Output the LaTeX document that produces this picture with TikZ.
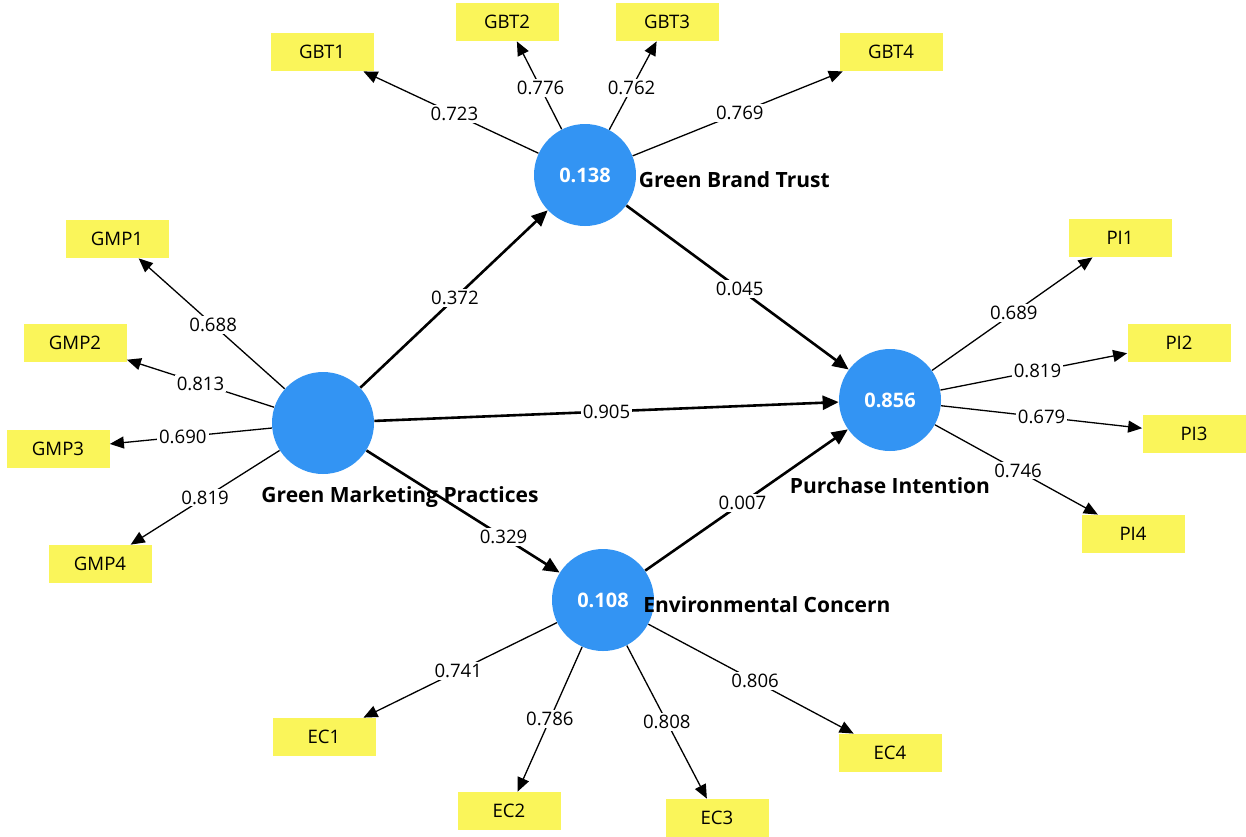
\documentclass[tikz,border=0pt]{standalone}
\usepackage{fontspec}
\setmainfont{Open Sans}
\usepackage{tikz}
\usetikzlibrary{positioning,arrows.meta}
\definecolor{lvblue}{RGB}{51,148,243}
\definecolor{indyellow}{RGB}{250,245,90}

\begin{document}
\begin{tikzpicture}[x=0.5pt, y=-0.5pt, font=\fontsize{9.3}{11}\selectfont,
  lv/.style={circle, fill=lvblue, minimum size=51pt, inner sep=0pt, text=white,
    font=\fontsize{10}{12}\selectfont\bfseries},
  ind/.style={fill=indyellow, minimum width=51.5pt, minimum height=19pt, inner sep=0pt},
  lvname/.style={font=\fontsize{10.5}{12}\selectfont\bfseries, inner sep=0pt},
  wt/.style={fill=white, inner sep=1pt},
  ld/.style={line width=0.65pt, -{Triangle[length=7pt, width=6pt]}},
  pth/.style={line width=1.3pt, -{Triangle[length=8pt, width=7pt]}}]
\useasboundingbox[fill=white] (0,0) rectangle (1246,836);

% constructs
\node[lv] (gmp) at (323,423) {};
\node[lv] (gbt) at (585,175) {0.138};
\node[lv] (pi) at (890,400) {0.856};
\node[lv] (ec) at (603,600) {0.108};

% indicators
\node[ind] (gbt1) at (322,52) {GBT1};
\node[ind] (gbt2) at (507,22) {GBT2};
\node[ind] (gbt3) at (667,22) {GBT3};
\node[ind] (gbt4) at (891,52) {GBT4};
\node[ind] (gmp1) at (117,239) {GMP1};
\node[ind] (gmp2) at (75,343) {GMP2};
\node[ind] (gmp3) at (58,449) {GMP3};
\node[ind] (gmp4) at (100,564) {GMP4};
\node[ind] (pi1) at (1120,238) {PI1};
\node[ind] (pi2) at (1179,343) {PI2};
\node[ind] (pi3) at (1194,434) {PI3};
\node[ind] (pi4) at (1133,534) {PI4};
\node[ind] (ec1) at (324,737) {EC1};
\node[ind] (ec2) at (509,811) {EC2};
\node[ind] (ec3) at (717,818) {EC3};
\node[ind] (ec4) at (890,753) {EC4};

% outer loadings
\draw[ld] (gbt) -- node[wt, pos=0.48] {0.723} (gbt1);
\draw[ld] (gbt) -- node[wt, pos=0.47] {0.776} (gbt2);
\draw[ld] (gbt) -- node[wt, pos=0.47] {0.762} (gbt3);
\draw[ld] (gbt) -- node[wt, pos=0.51] {0.769} (gbt4);
\draw[ld] (gmp) -- node[wt, pos=0.49] {0.688} (gmp1);
\draw[ld] (gmp) -- node[wt, pos=0.50] {0.813} (gmp2);
\draw[ld] (gmp) -- node[wt, pos=0.55] {0.690} (gmp3);
\draw[ld] (gmp) -- node[wt, pos=0.50] {0.819} (gmp4);
\draw[ld] (pi) -- node[wt, pos=0.51] {0.689} (pi1);
\draw[ld] (pi) -- node[wt, pos=0.52] {0.819} (pi2);
\draw[ld] (pi) -- node[wt, pos=0.50] {0.679} (pi3);
\draw[ld] (pi) -- node[wt, pos=0.51] {0.746} (pi4);
\draw[ld] (ec) -- node[wt, pos=0.51] {0.741} (ec1);
\draw[ld] (ec) -- node[wt, pos=0.50] {0.786} (ec2);
\draw[ld] (ec) -- node[wt, pos=0.50] {0.808} (ec3);
\draw[ld] (ec) -- node[wt, pos=0.52] {0.806} (ec4);

% path coefficients
\draw[pth] (gmp) -- node[wt, pos=0.505] {0.372} (gbt);
\draw[pth] (gbt) -- node[wt, pos=0.51] {0.045} (pi);
\draw[pth] (gmp) -- node[wt, pos=0.50] {0.905} (pi);
\draw[pth] (gmp) -- node[wt, pos=0.71] {0.329} (ec);
\draw[pth] (ec) -- node[wt, pos=0.48] {0.007} (pi);

% construct names
\node[lvname, right=1pt of gbt, yshift=-2.5pt] (gbtname) {Green Brand Trust};
\node[lvname] (gmpname) at (400,497) {Green Marketing Practices};
\node[lvname, below=13pt of pi] (piname) {Purchase Intention};
\node[lvname, anchor=west] (ecname) at (643,605) {Environmental Concern};
\end{tikzpicture}
\end{document}
